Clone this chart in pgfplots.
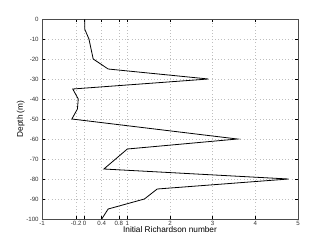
\documentclass[border=0pt]{standalone}
\usepackage{pgfplots}
\pgfplotsset{compat=1.18}
\usepackage{fontspec}
\setmainfont{Liberation Sans}
\begin{document}
\begin{tikzpicture}
\begin{axis}[
  scale only axis,
  width=192pt, height=150pt,
  xmin=-1, xmax=5, ymin=-100, ymax=0,
  xtick={-1,-0.2,0,0.4,0.8,1,2,3,4,5},
  xticklabels={-1,-0.2,0,0.4,0.8,1,2,3,4,5},
  ytick={-100,-90,...,0},
  yticklabels={-100,-90,-80,-70,-60,-50,-40,-30,-20,-10,0},
  tick align=inside,
  major tick length=2pt,
  tick style={black, line width=0.4pt},
  grid=major,
  major grid style={gray!50, dotted, line width=0.4pt},
  axis line style={black!70, line width=0.5pt},
  tick label style={font=\fontsize{4.6}{5}\selectfont, text=black!80},
  xticklabel style={yshift=2pt},
  yticklabel style={xshift=1pt},
  xlabel={Initial Richardson number},
  ylabel={Depth (m)},
  label style={font=\fontsize{6.2}{7}\selectfont},
  xlabel style={yshift=6pt},
  ylabel style={yshift=-5.5pt},
  /pgf/number format/assume math mode=true,
]
\addplot[black, line width=0.6pt] coordinates {
(0,0) (0,-5) (0.1,-10) (0.15,-15) (0.2,-20) (0.55,-25) (2.9,-30)
(-0.28,-35) (-0.15,-40) (-0.17,-45) (-0.3,-50) (3.58,-60) (1.0,-65)
(0.45,-75) (4.78,-80) (1.7,-85) (1.4,-90) (0.55,-95) (0.4,-100)
};
\coordinate (sw) at (rel axis cs:0,0);
\coordinate (ne) at (rel axis cs:1,1);
\end{axis}
\pgfresetboundingbox
\path[use as bounding box] ([shift={(-31.5pt,-21pt)}]sw) rectangle ([shift={(23.25pt,14.25pt)}]ne);
\end{tikzpicture}
\end{document}
